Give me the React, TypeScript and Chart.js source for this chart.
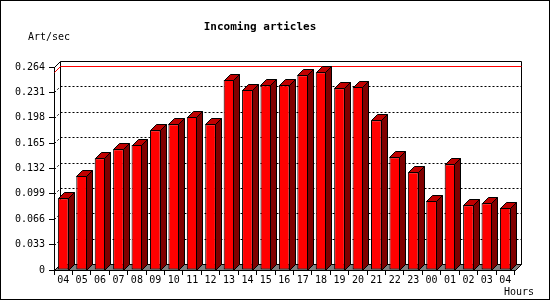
import React, { useEffect, useRef } from "react";
import { Chart, registerables } from "chart.js";

Chart.register(...registerables);

const hours = ["04","05","06","07","08","09","10","11","12","13","14","15","16","17","18","19","20","21","22","23","00","01","02","03","04"];
const rates = [0.0933,0.1226,0.1453,0.157,0.1626,0.1817,0.1895,0.199,0.1895,0.2471,0.2341,0.2402,0.2402,0.2532,0.2571,0.2363,0.2384,0.1947,0.1466,0.1271,0.0901,0.1375,0.0841,0.0867,0.081];
const yTicks = [0, 0.033, 0.066, 0.099, 0.132, 0.165, 0.198, 0.231, 0.264];
const titleText = "Incoming articles";
const yUnit = "Art/sec";
const xUnit = "Hours";

const FONT = "'DejaVu Sans Mono', 'Liberation Mono', monospace";
const DEPTH = 6;

const snap = (v: number) => Math.round(v) + 0.5;

const threeD = {
  id: "threeD",
  beforeDatasetsDraw(chart: any) {
    const ctx = chart.ctx;
    const { left, right, top, bottom } = chart.chartArea;
    const ys = chart.scales.y;
    const d = DEPTH;
    const L = snap(left), R = snap(right), T = snap(top), B = snap(bottom);
    ctx.save();
    ctx.lineWidth = 1;
    // floor
    ctx.beginPath();
    ctx.moveTo(L, B);
    ctx.lineTo(L + d, B - d);
    ctx.lineTo(R + d, B - d);
    ctx.lineTo(R, B);
    ctx.closePath();
    ctx.fillStyle = "#808080";
    ctx.fill();
    ctx.strokeStyle = "#000";
    ctx.stroke();
    // dotted grid on back wall + left wall
    ctx.setLineDash([2, 2]);
    yTicks.forEach((v, i) => {
      if (i === 0 || i === yTicks.length - 1) return;
      const yf = snap(ys.getPixelForValue(v));
      ctx.beginPath();
      ctx.moveTo(L + d, yf - d);
      ctx.lineTo(R + d, yf - d);
      ctx.stroke();
      ctx.beginPath();
      ctx.moveTo(L, yf);
      ctx.lineTo(L + d, yf - d);
      ctx.stroke();
    });
    ctx.setLineDash([]);
    // back wall frame
    ctx.beginPath();
    ctx.moveTo(L, T);
    ctx.lineTo(L + d, T - d);
    ctx.lineTo(R + d, T - d);
    ctx.lineTo(R + d, B - d);
    ctx.lineTo(R, B);
    ctx.moveTo(L + d, T - d);
    ctx.lineTo(L + d, B - d);
    ctx.stroke();
    // max line
    const maxV = Math.max(...rates);
    const ym = snap(ys.getPixelForValue(maxV));
    ctx.strokeStyle = "#ff0000";
    ctx.beginPath();
    ctx.moveTo(L, ym);
    ctx.lineTo(L + d, ym - d);
    ctx.lineTo(R + d, ym - d);
    ctx.stroke();
    ctx.restore();
  },
  afterDatasetsDraw(chart: any) {
    const ctx = chart.ctx;
    const meta = chart.getDatasetMeta(0);
    const d = DEPTH;
    ctx.save();
    ctx.lineWidth = 1;
    ctx.strokeStyle = "#000";
    meta.data.forEach((el: any) => {
      const p = el.getProps(["x", "y", "base", "width"], true);
      const l = Math.round(p.x - p.width / 2) + 0.5;
      const r = Math.round(p.x + p.width / 2) - 0.5;
      const t = Math.round(p.y) + 0.5;
      const b = Math.round(p.base) + 0.5;
      // top face
      ctx.beginPath();
      ctx.moveTo(l, t);
      ctx.lineTo(l + d, t - d);
      ctx.lineTo(r + d, t - d);
      ctx.lineTo(r, t);
      ctx.closePath();
      ctx.fillStyle = "#c00000";
      ctx.fill();
      ctx.stroke();
      // side face
      ctx.beginPath();
      ctx.moveTo(r, t);
      ctx.lineTo(r + d, t - d);
      ctx.lineTo(r + d, b - d);
      ctx.lineTo(r, b);
      ctx.closePath();
      ctx.fillStyle = "#800000";
      ctx.fill();
      ctx.stroke();
    });
    ctx.restore();
  },
  afterDraw(chart: any) {
    const ctx = chart.ctx;
    ctx.save();
    ctx.fillStyle = "#000";
    ctx.textBaseline = "middle";
    ctx.font = `bold 11px ${FONT}`;
    ctx.textAlign = "center";
    ctx.fillText(titleText, 260, 27);
    ctx.font = `10px ${FONT}`;
    ctx.textAlign = "left";
    ctx.fillText(yUnit, 28, 37);
    ctx.textAlign = "right";
    ctx.fillText(xUnit, 534, 292);
    ctx.strokeStyle = "#000";
    ctx.lineWidth = 1;
    ctx.strokeRect(0.5, 0.5, chart.width - 1, chart.height - 1);
    ctx.restore();
  },
};

const bgPlugin = {
  id: "bg",
  beforeDraw(chart: any) {
    const ctx = chart.ctx;
    ctx.save();
    ctx.fillStyle = "#fff";
    ctx.fillRect(0, 0, chart.width, chart.height);
    ctx.restore();
  },
};

export default function App() {
  const ref = useRef<HTMLCanvasElement>(null);
  useEffect(() => {
    document.body.style.margin = "0";
    document.body.style.overflow = "hidden";
    const chart = new Chart(ref.current as HTMLCanvasElement, {
      type: "bar",
      data: {
        labels: hours,
        datasets: [
          {
            data: rates,
            backgroundColor: "#ff0000",
            borderColor: "#000000",
            borderWidth: 1,
            borderSkipped: false,
            barPercentage: 0.58,
            categoryPercentage: 1,
          },
        ],
      },
      options: {
        responsive: false,
        animation: false,
        devicePixelRatio: 1,
        layout: { padding: { left: 0, top: 67, right: 35.5, bottom: 0 } },
        plugins: { legend: { display: false }, tooltip: { enabled: false }, title: { display: false } },
        scales: {
          x: {
            type: "category",
            grid: { display: true, drawOnChartArea: false, drawTicks: true, tickLength: 5, color: "#000", offset: true },
            border: { display: true, color: "#000", width: 1 },
            ticks: { color: "#000", font: { family: FONT, size: 10 }, maxRotation: 0, autoSkip: false, padding: -1 },
            afterFit: (s: any) => { s.height = 30; },
          },
          y: {
            type: "linear",
            min: 0,
            max: 0.264,
            grid: { display: true, drawOnChartArea: false, drawTicks: true, tickLength: 5, color: "#000" },
            border: { display: true, color: "#000", width: 1 },
            ticks: {
              color: "#000",
              font: { family: FONT, size: 10 },
              padding: 4,
              callback: (v: any) => (Number(v) === 0 ? "0" : Number(v).toFixed(3)),
            },
            afterBuildTicks: (s: any) => { s.ticks = yTicks.map((v) => ({ value: v })); },
            afterFit: (s: any) => { s.width = 54; },
          },
        },
      },
      plugins: [bgPlugin, threeD],
    });
    return () => chart.destroy();
  }, []);
  return <canvas ref={ref} width={550} height={300} style={{ display: "block" }} />;
}
